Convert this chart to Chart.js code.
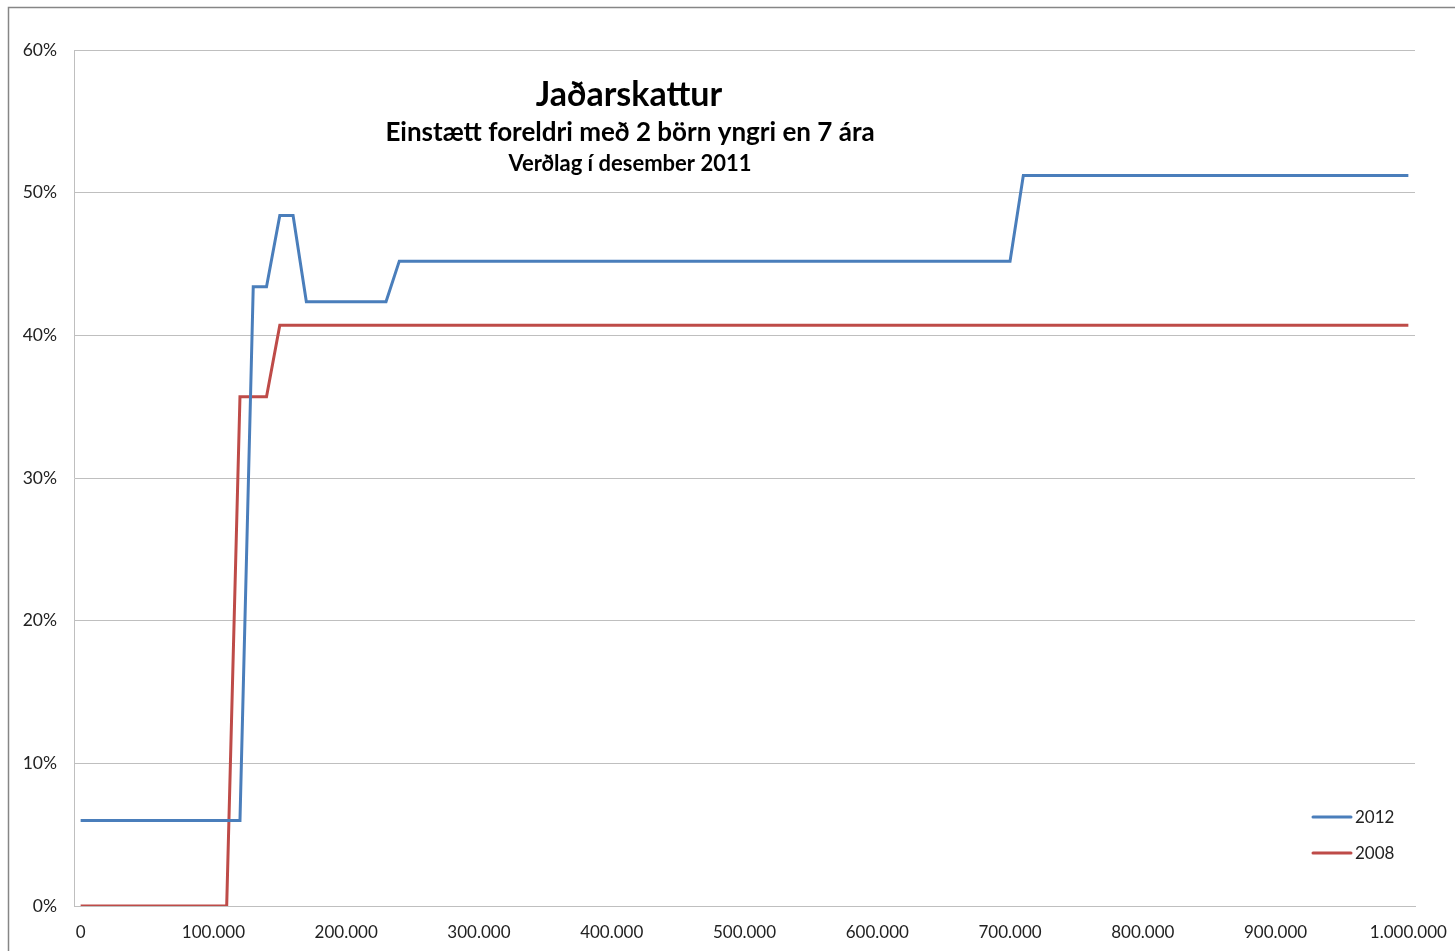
<!DOCTYPE html>
<html>
<head>
<meta charset="utf-8">
<script src="https://cdn.jsdelivr.net/npm/chart.js@4/dist/chart.umd.min.js"></script>
<style>
  html, body { margin: 0; padding: 0; background: #fff; }
  #wrap { width: 1455px; height: 951px; position: relative; }
</style>
</head>
<body>
<div id="wrap"><canvas id="c" width="1455" height="951"></canvas></div>
<script>
'use strict';

// income in thousands of kr
const incomes = [
    0, 10, 20, 30, 40, 50, 60, 70, 80, 90,
    100, 110, 120, 130, 140, 150, 160, 170, 180, 190,
    200, 210, 220, 230, 240, 250, 260, 270, 280, 290,
    300, 310, 320, 330, 340, 350, 360, 370, 380, 390,
    400, 410, 420, 430, 440, 450, 460, 470, 480, 490,
    500, 510, 520, 530, 540, 550, 560, 570, 580, 590,
    600, 610, 620, 630, 640, 650, 660, 670, 680, 690,
    700, 710, 720, 730, 740, 750, 760, 770, 780, 790,
    800, 810, 820, 830, 840, 850, 860, 870, 880, 890,
    900, 910, 920, 930, 940, 950, 960, 970, 980, 990,
    1000
];

// marginal tax rate, %
const rate2012 = [
    6, 6, 6, 6, 6, 6, 6, 6, 6, 6,
    6, 6, 6, 43.4, 43.4, 48.4, 48.4, 42.35, 42.35, 42.35,
    42.35, 42.35, 42.35, 42.35, 45.2, 45.2, 45.2, 45.2, 45.2, 45.2,
    45.2, 45.2, 45.2, 45.2, 45.2, 45.2, 45.2, 45.2, 45.2, 45.2,
    45.2, 45.2, 45.2, 45.2, 45.2, 45.2, 45.2, 45.2, 45.2, 45.2,
    45.2, 45.2, 45.2, 45.2, 45.2, 45.2, 45.2, 45.2, 45.2, 45.2,
    45.2, 45.2, 45.2, 45.2, 45.2, 45.2, 45.2, 45.2, 45.2, 45.2,
    45.2, 51.2, 51.2, 51.2, 51.2, 51.2, 51.2, 51.2, 51.2, 51.2,
    51.2, 51.2, 51.2, 51.2, 51.2, 51.2, 51.2, 51.2, 51.2, 51.2,
    51.2, 51.2, 51.2, 51.2, 51.2, 51.2, 51.2, 51.2, 51.2, 51.2,
    51.2
];

const rate2008 = [
    0, 0, 0, 0, 0, 0, 0, 0, 0, 0,
    0, 0, 35.7, 35.7, 35.7, 40.7, 40.7, 40.7, 40.7, 40.7,
    40.7, 40.7, 40.7, 40.7, 40.7, 40.7, 40.7, 40.7, 40.7, 40.7,
    40.7, 40.7, 40.7, 40.7, 40.7, 40.7, 40.7, 40.7, 40.7, 40.7,
    40.7, 40.7, 40.7, 40.7, 40.7, 40.7, 40.7, 40.7, 40.7, 40.7,
    40.7, 40.7, 40.7, 40.7, 40.7, 40.7, 40.7, 40.7, 40.7, 40.7,
    40.7, 40.7, 40.7, 40.7, 40.7, 40.7, 40.7, 40.7, 40.7, 40.7,
    40.7, 40.7, 40.7, 40.7, 40.7, 40.7, 40.7, 40.7, 40.7, 40.7,
    40.7, 40.7, 40.7, 40.7, 40.7, 40.7, 40.7, 40.7, 40.7, 40.7,
    40.7, 40.7, 40.7, 40.7, 40.7, 40.7, 40.7, 40.7, 40.7, 40.7,
    40.7
];

const titleLines = ['Jaðarskattur', 'Einstætt foreldri með 2 börn yngri en 7 ára', 'Verðlag í desember 2011'];

const FONT = 'Lato, "Open Sans", sans-serif';

const fmtKr = function (k) {
    return (k * 1000).toString().replace(/\B(?=(\d{3})+(?!\d))/g, '.');
};

// outer frame, title inside the plot and legend at bottom right
const decor = {
    id: 'decor',
    beforeDraw(chart) {
        const ctx = chart.ctx;
        ctx.save();
        ctx.strokeStyle = '#868686';
        ctx.lineWidth = 1.5;
        ctx.strokeRect(8.5, 7.5, 1500, 1000);
        ctx.restore();
    },
    afterDraw(chart) {
        const ctx = chart.ctx;
        ctx.save();
        ctx.fillStyle = '#000';
        ctx.textAlign = 'center';
        ctx.textBaseline = 'middle';
        ctx.font = 'bold 34px ' + FONT;
        ctx.fillText(titleLines[0], 629, 95);
        ctx.font = 'bold 26px ' + FONT;
        ctx.fillText(titleLines[1], 630, 133);
        ctx.font = 'bold 22px ' + FONT;
        ctx.fillText(titleLines[2], 630, 164);

        // legend
        ctx.textAlign = 'left';
        ctx.font = '17px ' + FONT;
        chart.data.datasets.forEach((ds, i) => {
            const y = 817 + i * 36;
            ctx.strokeStyle = ds.borderColor;
            ctx.lineWidth = 3;
            ctx.lineCap = 'round';
            ctx.beginPath();
            ctx.moveTo(1313, y);
            ctx.lineTo(1351, y);
            ctx.stroke();
            ctx.fillStyle = '#222';
            ctx.fillText(ds.label, 1355, y + 1);
        });
        ctx.restore();
    }
};

new Chart(document.getElementById('c'), {
    type: 'line',
    data: {
        labels: incomes,
        datasets: [
            { label: '2012', data: rate2012, borderColor: '#4a7ebb', borderWidth: 3, pointRadius: 0, tension: 0 },
            { label: '2008', data: rate2008, borderColor: '#be4b48', borderWidth: 3, pointRadius: 0, tension: 0 }
        ]
    },
    options: {
        responsive: false,
        animation: false,
        layout: { padding: { top: 50, right: 40, left: 0, bottom: 0 } },
        plugins: { legend: { display: false }, tooltip: { enabled: false } },
        scales: {
            x: {
                offset: true,
                grid: { display: false, drawTicks: false },
                border: { color: '#bfbfbf', width: 1 },
                afterFit(scale) {
                    scale.height = 45;
                    scale.paddingLeft = 0;
                    scale.paddingRight = 0;
                },
                ticks: {
                    autoSkip: false,
                    maxRotation: 0,
                    padding: 16,
                    color: '#222',
                    font: { family: FONT, size: 17 },
                    callback(val, idx) {
                        return idx % 10 === 0 ? fmtKr(incomes[idx]) : null;
                    }
                }
            },
            y: {
                min: 0,
                max: 60,
                grid: { color: '#bfbfbf', lineWidth: 1, drawTicks: false },
                border: { color: '#bfbfbf', width: 1 },
                afterFit(scale) { scale.width = 74; },
                ticks: {
                    stepSize: 10,
                    padding: 17,
                    color: '#222',
                    font: { family: FONT, size: 17.5 },
                    callback(v) { return v + '%'; }
                }
            }
        }
    },
    plugins: [decor]
});
</script>
</body>
</html>
